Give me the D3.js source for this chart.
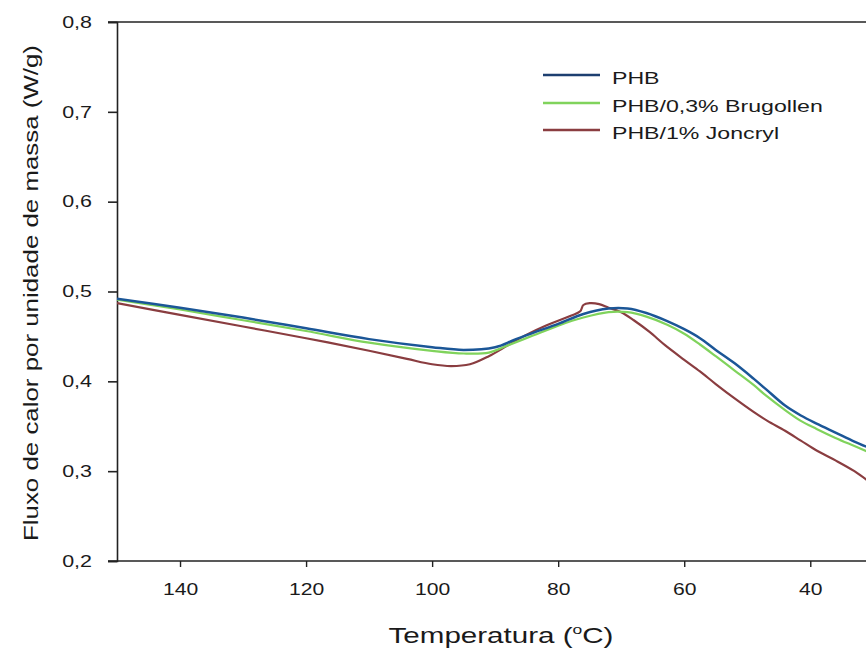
<!DOCTYPE html>
<html>
<head>
<meta charset="utf-8">
<script src="https://cdn.jsdelivr.net/npm/d3@7"></script>
<style>
  html, body { margin: 0; padding: 0; background: #fff; }
  svg { display: block; }
  text { font-family: "Liberation Sans", Arial, sans-serif; fill: #1a1a1a; }
</style>
</head>
<body>
<svg id="chart" width="866" height="651"></svg>
<script>
// ---- Data ----
const seriesNames = ["PHB", "PHB/0,3% Brugollen", "PHB/1% Joncryl"];
const seriesColors = ["#1b5697", "#80d35c", "#8a3d40"];

const tempPHB = [150, 140, 130, 120, 110, 100, 95, 90, 87, 84, 80, 76, 72, 69, 66, 62.7, 60, 57.5, 55, 52, 49, 47, 44, 41.5, 39, 36, 33, 31];
const fluxPHB = [0.492, 0.482, 0.471, 0.459, 0.447, 0.438, 0.435, 0.438, 0.446, 0.454, 0.464, 0.475, 0.481, 0.481, 0.476, 0.467, 0.458, 0.448, 0.435, 0.420, 0.403, 0.391, 0.373, 0.362, 0.353, 0.343, 0.333, 0.327];

const tempBrug = [150, 140, 130, 120, 110, 100, 95, 91, 88, 84, 80, 76, 72, 69, 66, 62.7, 60, 57.5, 55, 52, 49, 47, 44, 41.5, 39, 36, 33, 31];
const fluxBrug = [0.491, 0.480, 0.468, 0.456, 0.443, 0.434, 0.431, 0.432, 0.440, 0.451, 0.462, 0.471, 0.477, 0.477, 0.472, 0.463, 0.453, 0.441, 0.428, 0.412, 0.396, 0.384, 0.368, 0.356, 0.347, 0.337, 0.328, 0.322];

const tempJonc = [150, 140, 130, 120, 110, 104, 100, 97, 94, 91, 88, 85, 82, 78, 76.5, 76, 75, 73.5, 72, 70, 68, 65.5, 63, 60, 57.5, 55, 52, 49, 46.8, 44, 41.5, 39, 36, 33, 31];
const fluxJonc = [0.487, 0.474, 0.461, 0.448, 0.434, 0.425, 0.419, 0.417, 0.419, 0.428, 0.440, 0.452, 0.462, 0.473, 0.478, 0.485, 0.487, 0.486, 0.482, 0.477, 0.468, 0.455, 0.440, 0.424, 0.411, 0.397, 0.381, 0.366, 0.356, 0.345, 0.334, 0.323, 0.312, 0.300, 0.290];

const xTicks = [140, 120, 100, 80, 60, 40];
const yTicks = [0.2, 0.3, 0.4, 0.5, 0.6, 0.7, 0.8];

const xTitle = "Temperatura (";
const yTitle = "Fluxo de calor por unidade de massa (W/g)";

// ---- Layout ----
const svg = d3.select("#chart");
const L = 117, R = 867, T = 22, B = 561;

const x = d3.scaleLinear().domain([150, 31]).range([L, R]);
const y = d3.scaleLinear().domain([0.2, 0.8]).range([B, T]);

function stretch(sel, k) {
  sel.each(function() {
    const w = this.getComputedTextLength();
    d3.select(this).attr("textLength", w * k).attr("lengthAdjust", "spacingAndGlyphs");
  });
}

// clip
svg.append("clipPath").attr("id", "plot").append("rect")
  .attr("x", L).attr("y", T - 2).attr("width", R - L).attr("height", B - T + 4);

// top frame line
svg.append("line").attr("x1", L - 9).attr("x2", 866).attr("y1", T).attr("y2", T)
  .attr("stroke", "#222").attr("stroke-width", 1.6);

// axes
const yAxis = svg.append("g").attr("transform", `translate(${L},0)`)
  .call(d3.axisLeft(y).tickValues(yTicks).tickSize(9).tickPadding(16)
    .tickFormat(d => d3.format(".1f")(d).replace(".", ",")));
yAxis.select(".domain").attr("stroke", "#222").attr("stroke-width", 1.6);
yAxis.selectAll(".tick line").attr("stroke", "#222").attr("stroke-width", 1.6);
yAxis.selectAll(".tick text").attr("font-size", 16.5).attr("fill", "#1a1a1a")
  .style("font-family", "Liberation Sans, Arial, sans-serif");
stretch(yAxis.selectAll(".tick text"), 1.3);

const xAxis = svg.append("g").attr("transform", `translate(0,${B})`)
  .call(d3.axisBottom(x).tickValues(xTicks).tickSize(6).tickPadding(16).tickSizeOuter(0));
xAxis.select(".domain").attr("stroke", "#222").attr("stroke-width", 1.6)
  .attr("d", `M${L - 9},0H866`);
xAxis.selectAll(".tick line").attr("stroke", "#222").attr("stroke-width", 1.4);
xAxis.selectAll(".tick text").attr("font-size", 16.5).attr("fill", "#1a1a1a")
  .style("font-family", "Liberation Sans, Arial, sans-serif");
stretch(xAxis.selectAll(".tick text"), 1.28);

// lines
const series = [
  { name: seriesNames[0], color: seriesColors[0], t: tempPHB, v: fluxPHB },
  { name: seriesNames[1], color: seriesColors[1], t: tempBrug, v: fluxBrug },
  { name: seriesNames[2], color: seriesColors[2], t: tempJonc, v: fluxJonc }
];
const line = d3.line().x(d => x(d[0])).y(d => y(d[1])).curve(d3.curveCatmullRom.alpha(0.5));
const drawOrder = [2, 1, 0];
const plotG = svg.append("g").attr("clip-path", "url(#plot)");
drawOrder.forEach(i => {
  const s = series[i];
  plotG.append("path")
    .datum(s.t.map((t, j) => [t, s.v[j]]))
    .attr("fill", "none").attr("stroke", s.color)
    .attr("stroke-width", i === 0 ? 2.5 : 2.2)
    .attr("stroke-linejoin", "round")
    .attr("d", line);
});

// legend
const legendY = [75, 103, 130];
series.forEach((s, i) => {
  svg.append("line").attr("x1", 543).attr("x2", 600)
    .attr("y1", legendY[i]).attr("y2", legendY[i])
    .attr("stroke", i === 0 ? "#1d3f70" : s.color).attr("stroke-width", 2.4);
  const t = svg.append("text").attr("x", 612).attr("y", legendY[i] + 8.5)
    .attr("font-size", 17).text(s.name);
  stretch(t, 1.36);
});

// x title
const xt = svg.append("text").attr("font-size", 22).attr("text-anchor", "middle");
xt.append("tspan").text(xTitle);
xt.append("tspan").attr("font-size", 13).attr("dy", -9).text("o");
xt.append("tspan").attr("dy", 9).text("C)");
const wNat = xt.node().getBBox().width;
xt.attr("transform", `translate(501,643) scale(${225 / wNat},1)`);

// y title
svg.append("text")
  .attr("transform", "translate(38,293) rotate(-90)")
  .attr("text-anchor", "middle")
  .attr("font-size", 21)
  .attr("textLength", 496).attr("lengthAdjust", "spacingAndGlyphs")
  .text(yTitle);
</script>
</body>
</html>
